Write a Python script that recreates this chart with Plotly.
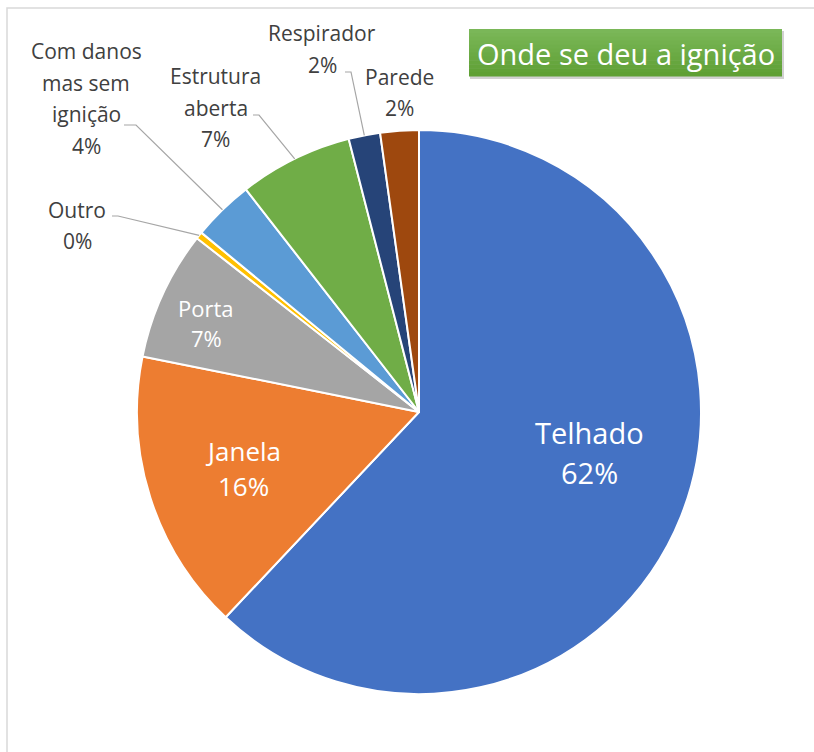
import math
import plotly.graph_objects as go

# ---------------- data ----------------
categories = ["Telhado", "Janela", "Porta", "Outro",
              "Com danos mas sem ignição", "Estrutura aberta",
              "Respirador", "Parede"]
values = [61.9, 16.1, 7.4, 0.4, 3.5, 6.5, 1.8, 2.2]
label_lines = [["Telhado"], ["Janela"], ["Porta"], ["Outro"],
               ["Com danos", "mas sem", "ignição"], ["Estrutura", "aberta"],
               ["Respirador"], ["Parede"]]
colors = ["#4472C4", "#ED7D31", "#A5A5A5", "#FFC000",
          "#5B9BD5", "#70AD47", "#264478", "#9E480E"]
title_text = "Onde se deu a ignição"

# ---------------- layout geometry (pixels) ----------------
W, H = 814, 752
CX, CY, R = 419, 412, 282
FONT = "Open Sans"

def px(x):
    return x / W

def py(y):
    return 1 - y / H

# label placement: center x, first baseline y, line spacing, font size, color
label_pos = {
    "Telhado": (589, 442, 40, 29, "white"),
    "Janela": (243, 460, 35, 26, "white"),
    "Porta": (206, 315, 30, 22, "white"),
    "Outro": (77, 217, 31, 21, "#404040"),
    "Com danos mas sem ignição": (86, 58, 31.7, 21, "#404040"),
    "Estrutura aberta": (216, 83, 31.5, 21, "#404040"),
    "Respirador": (322, 40, 32, 21, "#404040"),
    "Parede": (399, 84, 31, 21, "#404040"),
}
# leader elbows (text-end point, elbow point)
leaders = {
    "Outro": [(112, 216), (118, 216)],
    "Com danos mas sem ignição": [(124, 125), (136, 125)],
    "Estrutura aberta": [(253, 115), (259, 115)],
    "Respirador": [(345, 72), (351, 72)],
}

total = sum(values)
pct_text = [f"{round(v / total * 100):.0f}%" for v in values]

fig = go.Figure(go.Pie(
    labels=categories,
    values=values,
    sort=False,
    direction="clockwise",
    rotation=0,
    marker=dict(colors=colors, line=dict(color="white", width=2)),
    textinfo="none",
    hoverinfo="label+percent",
    showlegend=False,
    domain=dict(x=[px(CX - R), px(CX + R)], y=[py(CY + R), py(CY - R)]),
))

annotations = []
shapes = []

# border of chart area
shapes.append(dict(type="rect", xref="paper", yref="paper",
                   x0=px(7), x1=px(W + 20), y0=py(H + 20), y1=py(8),
                   line=dict(color="#D9D9D9", width=1.5), fillcolor="rgba(0,0,0,0)",
                   layer="below"))

# data labels
for cat, lines, pct in zip(categories, label_lines, pct_text):
    x, y0, dy, fs, col = label_pos[cat]
    all_lines = lines + [pct]
    for i, t in enumerate(all_lines):
        base = y0 + i * dy
        annotations.append(dict(
            x=px(x), y=py(base - 0.33 * fs), xref="paper", yref="paper",
            text=t, showarrow=False, xanchor="center", yanchor="middle",
            font=dict(family=FONT, size=fs, color=col)))

# leader lines, ending at the slice mid-angle on the rim
cum = 0
for cat, v in zip(categories, values):
    mid = (cum + v / 2) / total * 2 * math.pi
    cum += v
    if cat not in leaders:
        continue
    ex = CX + R * math.sin(mid)
    ey = CY - R * math.cos(mid)
    pts = leaders[cat] + [(ex, ey)]
    path = "M " + " L ".join(f"{px(a):.5f},{py(b):.5f}" for a, b in pts)
    shapes.append(dict(type="path", xref="paper", yref="paper", path=path,
                       line=dict(color="#A6A6A6", width=1.2)))

# title box with shadow and vertical gradient
bx0, bx1, by0, by1 = 469, 782, 29, 76
shapes.append(dict(type="rect", xref="paper", yref="paper",
                   x0=px(bx0 + 1), x1=px(bx1 + 2), y0=py(by1 + 3), y1=py(by0 + 2),
                   line=dict(width=0), fillcolor="rgba(0,0,0,0.18)"))
n = 12
c_top = (122, 183, 88)
c_bot = (95, 160, 52)
for i in range(n):
    f = i / (n - 1)
    c = tuple(round(c_top[k] + (c_bot[k] - c_top[k]) * f) for k in range(3))
    ya = by0 + (by1 - by0) * i / n
    yb = by0 + (by1 - by0) * (i + 1) / n
    shapes.append(dict(type="rect", xref="paper", yref="paper",
                       x0=px(bx0), x1=px(bx1), y0=py(yb + 0.5), y1=py(ya),
                       line=dict(width=0), fillcolor=f"rgb{c}"))
annotations.append(dict(x=px((bx0 + bx1) / 2), y=py(63 - 0.33 * 29),
                        xref="paper", yref="paper", text=title_text,
                        showarrow=False, xanchor="center", yanchor="middle",
                        font=dict(family=FONT, size=29, color="white")))

fig.update_layout(
    width=W, height=H,
    margin=dict(l=0, r=0, t=0, b=0),
    paper_bgcolor="white",
    plot_bgcolor="white",
    shapes=shapes,
    annotations=annotations,
)

fig.write_html("out.html", config={"displayModeBar": False},
               post_script="document.body.style.margin='0px';")
